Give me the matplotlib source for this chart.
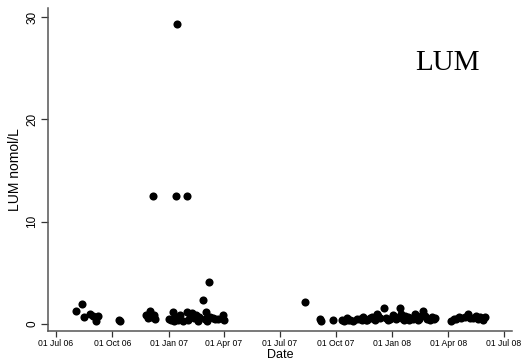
import matplotlib
matplotlib.use("Agg")
import matplotlib.pyplot as plt
import matplotlib.dates as mdates
import numpy as np
import datetime as dt

# ---- data ----
dates_str = [
    "2006-08-02", "2006-08-12", "2006-08-15", "2006-08-26", "2006-08-31",
    "2006-09-04", "2006-09-07", "2006-10-11", "2006-10-14",
    "2006-11-25", "2006-11-28", "2006-12-01", "2006-12-03", "2006-12-06",
    "2006-12-08", "2006-12-09",
    "2007-01-01", "2007-01-04", "2007-01-08", "2007-01-09", "2007-01-11",
    "2007-01-13", "2007-01-15", "2007-01-16", "2007-01-20", "2007-01-24",
    "2007-01-30", "2007-01-31", "2007-02-02", "2007-02-05", "2007-02-08",
    "2007-02-11", "2007-02-14", "2007-02-17", "2007-02-20", "2007-02-26",
    "2007-03-01", "2007-03-03", "2007-03-05", "2007-03-08", "2007-03-10",
    "2007-03-14", "2007-03-18", "2007-03-22", "2007-03-30", "2007-04-01",
    "2007-08-11",
    "2007-09-04", "2007-09-07", "2007-09-26", "2007-10-10", "2007-10-14",
    "2007-10-18", "2007-10-21", "2007-10-24", "2007-10-29", "2007-11-04",
    "2007-11-09", "2007-11-12", "2007-11-14", "2007-11-18", "2007-11-21",
    "2007-11-25", "2007-11-28", "2007-12-02", "2007-12-04", "2007-12-06",
    "2007-12-09", "2007-12-12", "2007-12-18", "2007-12-22", "2007-12-25",
    "2007-12-28", "2008-01-02", "2008-01-05", "2008-01-07", "2008-01-09",
    "2008-01-13", "2008-01-15", "2008-01-18", "2008-01-20", "2008-01-22",
    "2008-01-26", "2008-01-28", "2008-01-30", "2008-02-03", "2008-02-06",
    "2008-02-09", "2008-02-12", "2008-02-14", "2008-02-17", "2008-02-20",
    "2008-02-23", "2008-02-26", "2008-03-02", "2008-03-05", "2008-03-08",
    "2008-03-10",
    "2008-04-06", "2008-04-10", "2008-04-14", "2008-04-18", "2008-04-22",
    "2008-04-28", "2008-05-03", "2008-05-07", "2008-05-11", "2008-05-17",
    "2008-05-20", "2008-05-22", "2008-05-27", "2008-05-31",
]
lum_values = [
    1.3, 1.9, 0.7, 1.0, 0.8,
    0.25, 0.8, 0.35, 0.3,
    0.9, 0.55, 1.25, 0.7, 12.5,
    0.85, 0.5,
    0.5, 0.4, 1.2, 0.3, 0.7,
    12.5, 29.3, 0.4, 0.85, 0.3,
    1.2, 12.5, 0.4, 0.9, 1.1,
    0.6, 0.9, 0.3, 0.7, 2.35,
    0.5, 1.2, 0.3, 4.05, 0.7,
    0.6, 0.5, 0.45, 0.9, 0.35,
    2.1,
    0.5, 0.3, 0.35, 0.4, 0.3,
    0.55, 0.4, 0.35, 0.3, 0.45,
    0.5, 0.35, 0.7, 0.4, 0.35,
    0.6, 0.7, 0.5, 0.35, 1.0,
    0.8, 0.55, 1.55, 0.6, 0.4,
    0.5, 0.9, 0.7, 0.45, 0.6,
    1.6, 1.0, 0.5, 0.4, 0.8,
    0.7, 0.4, 0.6, 0.5, 1.0,
    0.7, 0.4, 0.5, 0.8, 1.3,
    0.8, 0.5, 0.4, 0.7, 0.5,
    0.55,
    0.3, 0.5, 0.5, 0.7, 0.6,
    0.7, 1.0, 0.6, 0.6, 0.8,
    0.5, 0.7, 0.4, 0.7,
]
tick_dates_str = ["2006-07-01", "2006-10-01", "2007-01-01", "2007-04-01",
                  "2007-07-01", "2007-10-01", "2008-01-01", "2008-04-01",
                  "2008-07-01"]
y_ticks = [0, 10, 20, 30]

dates = [dt.datetime.strptime(s, "%Y-%m-%d") for s in dates_str]
tick_dates = [dt.datetime.strptime(s, "%Y-%m-%d") for s in tick_dates_str]

fig = plt.figure(figsize=(5.23, 3.62), dpi=100)
ax = fig.add_axes([0.0918, 0.0855, 0.979 - 0.0918, 0.978 - 0.0855])

ax.scatter(dates, lum_values, s=34, color="black", linewidths=0, zorder=3)

ax.set_xlim(dt.datetime(2006, 6, 18), dt.datetime(2008, 7, 14))
ax.set_ylim(-0.7, 30.9)

ax.set_xticks(tick_dates)
ax.xaxis.set_major_formatter(mdates.DateFormatter("%d %b %y"))
ax.set_yticks(y_ticks)

for s in ["top", "right"]:
    ax.spines[s].set_visible(False)
for s in ["left", "bottom"]:
    ax.spines[s].set_color("#555555")
    ax.spines[s].set_linewidth(1.1)

ax.tick_params(axis="x", direction="out", length=4.5, width=0.9, color="#333333",
               labelsize=6.2, pad=1.5)
ax.tick_params(axis="y", direction="out", length=5, width=0.9, color="#333333",
               labelsize=8.5, pad=2)
for lab in ax.get_xticklabels():
    lab.set_fontfamily("Liberation Sans")
for lab in ax.get_yticklabels():
    lab.set_fontfamily("Liberation Sans")
    lab.set_rotation(90)
    lab.set_va("center")

ax.set_xlabel("Date", fontsize=9, family="Liberation Sans", labelpad=0.5)
ax.set_ylabel("LUM nomol/L", fontsize=10, family="Liberation Sans", labelpad=3)

fig.text(447 / 523, 1 - 63 / 362, "LUM", family="Liberation Serif",
         fontsize=21, ha="center", va="center")

fig.savefig("out.png", dpi=100)
